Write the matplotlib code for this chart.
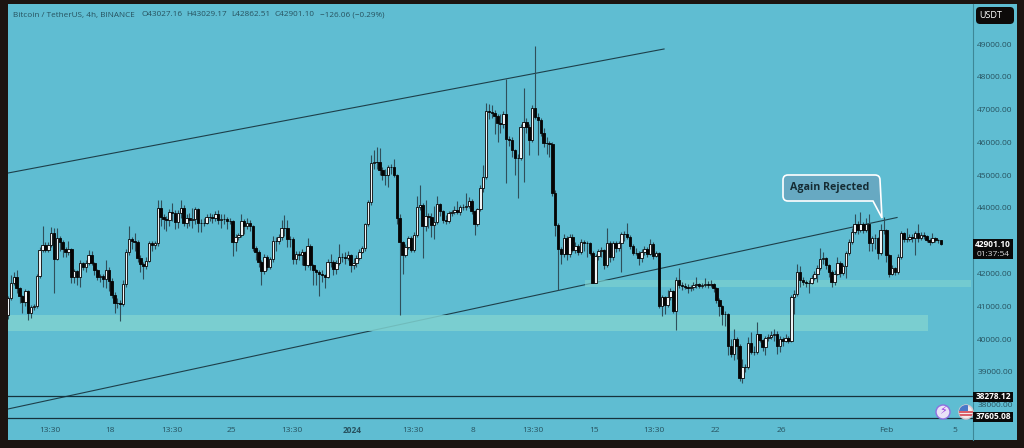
import matplotlib
matplotlib.use("Agg")
import matplotlib.pyplot as plt
from matplotlib.patches import Rectangle, FancyBboxPatch, PathPatch, Circle
from matplotlib.path import Path

plt.rcParams['font.family'] = ['Open Sans', 'DejaVu Sans']

first_open = 40733
closes = [
    41240,41700,41880,41550,41310,41140,41470,40800,40970,41010,
    41920,42710,42870,42720,42870,43240,42430,43070,42970,42740,
    42665,42740,41880,42070,41880,42310,42190,42310,42565,42330,
    42100,41880,41920,41820,42100,41780,41340,41090,41090,41080,
    41680,42650,43040,43000,42970,42460,42290,42230,42390,42920,
    42870,42940,43990,43710,43650,43630,43885,43835,43580,43835,
    43990,43550,43680,43640,43650,43970,43530,43550,43550,43710,
    43710,43680,43815,43630,43650,43650,43600,43600,42970,43120,
    43170,43600,43450,43530,43440,42770,42665,42360,42085,42490,
    42205,42430,42990,42990,43120,43400,43400,43040,43040,42430,
    42590,42560,42650,42250,42840,42250,42105,42055,42000,41950,
    41880,42360,42360,42125,42310,42510,42510,42460,42560,42260,
    42310,42460,42665,42770,43500,44170,45380,45410,45410,45155,
    45005,45000,45238,45240,45000,43680,42970,42560,42815,43070,
    42715,43170,44040,44090,43450,43750,43730,43480,43580,44120,
    43915,43630,43610,43855,43880,43930,43880,44020,44040,44060,
    44220,43915,43500,43960,44600,44930,46960,46925,46900,46800,
    46600,46560,46865,46090,46080,45766,45510,45510,46460,46630,
    46480,46070,47040,46760,46680,46295,45990,45970,45950,44445,
    43480,42735,42590,43070,42590,43120,42717,42840,42666,42970,
    42920,42920,42635,41720,42530,42700,42720,42260,42940,42490,
    42920,42770,42920,43205,43200,43120,42840,42635,42640,42460,
    42665,42740,42585,42900,42535,42615,41010,41290,41040,41290,
    41465,40866,41800,41650,41620,41600,41550,41600,41650,41680,
    41630,41650,41680,41650,41680,41550,41190,41010,40760,40760,
    39790,39530,39990,39790,38800,39150,39150,39870,39600,39600,
    40170,39970,39770,40040,40070,40120,40170,39787,40000,39950,
    40020,39950,41290,41390,42055,41800,41750,41700,41720,41850,
    42000,42160,42430,42460,42260,42060,41750,42000,42310,42025,
    42230,42615,42970,43275,43510,43327,43510,43327,43510,42920,
    43070,43070,42615,43327,43320,42564,41984,42157,42050,42492,
    43225,43040,43040,43120,43070,43225,43070,43170,43140,43020,
    42970,43070,43020,43027,42901.10,
]
highs = [
    41300,41950,42060,42100,41600,41350,41520,41500,41050,41080,
    41980,42800,43450,42950,42950,43430,43400,43380,43150,43020,
    42800,43000,42780,42150,42100,42400,42350,42400,42720,42700,
    42350,42150,42000,41980,42400,42200,41850,41450,41250,41200,
    41800,42750,43450,43120,43230,43030,42550,42350,42500,43000,
    43000,43000,44250,44240,43800,43750,43980,44150,43950,43950,
    44250,44100,43800,43850,43990,44040,44000,43650,43700,43800,
    43840,43800,43920,43950,43800,43800,43720,43680,43620,43200,
    43250,43800,43650,43700,43640,43480,42850,42720,42400,42580,
    42550,42500,43150,43120,43200,43620,43770,43620,43150,43100,
    42700,42680,42750,42700,43070,42900,42300,42150,42100,42100,
    42000,42450,42580,42400,42400,42900,42620,42650,42700,42600,
    42480,42550,42750,42850,43550,44250,45610,45770,45850,45820,
    45250,45200,45320,45350,45490,45050,43800,43000,42900,43150,
    43150,43280,44350,44700,44150,44250,43850,43850,44050,44350,
    44150,43950,43780,43900,43950,44050,44200,44100,44120,44450,
    44330,44280,43950,44000,44700,45300,47190,47170,47150,47000,
    46850,46850,46950,47930,46200,46150,45800,45650,46550,47660,
    46750,46550,47150,48940,46900,46750,46450,46150,46050,46000,
    44550,43550,42800,43200,43150,43200,43200,42950,42900,43050,
    43030,43000,42960,42680,42600,42760,42800,42750,43380,42980,
    43000,42980,43000,43280,43300,43550,43180,42900,42780,42680,
    42750,42850,42800,43050,42950,42700,42650,41350,41320,41500,
    41550,41500,41880,42180,41750,41700,41680,41650,41750,41880,
    41720,41720,41850,41780,41800,41720,41600,41250,41050,40850,
    40800,40000,40300,40050,39850,39400,39250,40050,40230,39800,
    40530,40150,40000,40100,40150,40250,40300,40250,40080,40050,
    40150,40080,41350,41500,42300,42220,41880,41800,41800,41950,
    42080,42250,42780,42650,42500,42300,42100,42100,42500,42380,
    42300,42700,43050,43400,43800,43600,43880,43580,43700,43800,
    43150,43200,43120,43500,43720,43360,42600,42250,42200,42600,
    43300,43280,43400,43200,43200,43300,43500,43280,43280,43180,
    43080,43230,43120,43060,43029.17,
]
lows = [
    40600,41200,41650,41400,41100,40800,41000,40580,40630,40900,
    40950,41850,42650,42650,42650,42800,41400,42400,42700,42500,
    42500,42550,41700,41700,41650,41600,42100,42050,42250,42250,
    41950,41800,41750,41600,41550,41480,41250,40800,40950,40560,
    41000,41600,42550,42750,42700,42350,42050,41820,42150,42350,
    42700,42750,42850,43450,43350,43300,43450,43600,43350,43400,
    43700,43450,43400,43450,43400,43500,43280,43280,43450,43500,
    43600,43550,43600,43500,43380,43500,43350,43500,42520,42700,
    43020,43100,43200,43350,43300,42680,42400,42200,41650,42000,
    42100,42150,42350,42700,42900,43020,43150,42800,42800,42300,
    42300,42400,42250,42100,42200,42100,41650,41650,41300,41750,
    41550,41850,42200,41950,42000,42250,42350,42300,42400,42050,
    42150,42200,42400,42620,42700,43450,44100,45200,45200,45000,
    44850,44700,44650,45050,44950,43500,40735,42000,42500,42750,
    42650,42650,43100,43950,42460,43300,43400,43100,43050,43500,
    43750,43550,43500,43550,43750,43800,43800,43780,43950,43950,
    44000,43800,43180,43450,43900,44500,44880,46700,46750,46250,
    46020,46300,46450,44760,45900,45550,45000,44290,45450,44790,
    46300,45600,46000,46700,45600,46200,45850,45650,45550,44350,
    43150,41500,42300,42500,42400,42500,42650,42620,42550,42600,
    42700,42500,42550,41700,41700,42400,42500,42150,42200,42350,
    42400,42650,42680,42050,43000,43050,42750,42550,42550,42250,
    42350,42550,42500,42550,42450,42500,40950,40700,40750,40980,
    41200,40800,40270,41550,41500,41520,41400,41480,41500,41550,
    41550,41550,41600,41550,41600,41450,41100,40700,40420,40400,
    39500,39450,39350,39400,38720,38650,39000,39100,39550,39500,
    39550,39900,39650,39510,39950,40000,39950,39550,39600,39800,
    39900,39880,39920,40750,41300,41600,41650,41600,41400,41680,
    41800,41750,42100,42300,42150,41900,41600,41650,41950,41900,
    41950,41850,42550,42900,43200,43200,43280,43250,43280,42700,
    42700,42750,42450,42550,43200,42350,41900,41950,41950,41980,
    42450,42950,42950,43000,42950,42550,42950,43020,43050,42950,
    42880,42920,42950,42930,42862.51,
]
opens = [first_open] + closes[:-1]  # each 4h candle opens on the previous close

price_ticks = [49000, 48000, 47000, 46000, 45000, 44000, 42000, 41000, 40000, 39000, 38000]
time_ticks = [14.6, 35.4, 57, 77.5, 98.6, 119.4, 140.6, 161.5, 182.3, 203.5, 224.3, 245.5, 268.7, 305, 328.8]
time_labels = ['13:30', '18', '13:30', '25', '13:30', '2024', '13:30', '8', '13:30', '15', '13:30', '22', '26', 'Feb', '5']

upper_line_x = [0, 227.8]
upper_line_y = [45065, 48848]
lower_line_x = [0, 308.7]
lower_line_y = [37868, 43708]
support_levels = [38278.12, 37605.08]
low_band = (40246, 40735, 0, 319.4)
high_band = (41590, 41800, 200.3, 334.4)

W, H = 1024, 448
BG = '#5fbdd2'
FRAME = '#1c1411'
INK = '#27525f'


def fx(x):
    return x / W


def fy(y):
    return 1 - y / H


fig = plt.figure(figsize=(10.24, 4.48), dpi=100, facecolor=FRAME)
fig.add_artist(Rectangle((fx(8), fy(440)), fx(1017 - 8), 436 / H, transform=fig.transFigure,
                         facecolor=BG, edgecolor='none', zorder=-5))
ax = fig.add_axes([fx(8), fy(440), fx(973 - 8), 436 / H], facecolor='none')
ax.set_xlim(0, (973 - 8) / 2.88)
ax.set_ylim(36922, 50220)
for s in ax.spines.values():
    s.set_visible(False)
ax.spines['right'].set_visible(True)
ax.spines['right'].set_color('#3d8797')
ax.spines['right'].set_linewidth(0.8)

# trend lines, the pale bands sit on top of them
ax.plot(upper_line_x, upper_line_y, color='#1d3f4a', lw=0.8, zorder=1)
ax.plot(lower_line_x, lower_line_y, color='#1d3f4a', lw=0.8, zorder=1)
for lev in support_levels:
    ax.axhline(lev, color='#16323c', lw=0.9, zorder=1)
ax.add_patch(Rectangle((low_band[2], low_band[0]), low_band[3] - low_band[2], low_band[1] - low_band[0],
                       facecolor='#7fd2d0', edgecolor='none', alpha=0.85, zorder=2))
ax.add_patch(Rectangle((high_band[2], high_band[0]), high_band[3] - high_band[2], high_band[1] - high_band[0],
                       facecolor='#7fd2d0', edgecolor='none', alpha=0.65, zorder=2))

idx = list(range(len(closes)))
ax.vlines(idx, lows, highs, color='#2f4f5a', lw=0.8, zorder=3)
for i in idx:
    up = closes[i] >= opens[i]
    ax.bar(i, abs(closes[i] - opens[i]), width=0.85, bottom=min(opens[i], closes[i]),
           color='#eef3f5' if up else '#050505', edgecolor='#050505', lw=0.6, zorder=4)

ax.yaxis.tick_right()
ax.set_yticks(price_ticks)
ax.set_yticklabels(['%.2f' % p for p in price_ticks], fontsize=6, color=INK)
ax.tick_params(axis='y', length=0, pad=3)
ax.set_xticks(time_ticks)
ax.set_xticklabels(time_labels, fontsize=6, color=INK, va='center')
ax.tick_params(axis='x', length=0, pad=-7.2)
ax.get_xticklabels()[5].set_fontweight('bold')

# legend line, the OHLC values are spaced wider than the name
header_x = [13, 141, 186, 231, 274.5, 320]
header_txt = ['Bitcoin / TetherUS, 4h, BINANCE', 'O43027.16', 'H43029.17', 'L42862.51', 'C42901.10', '\u2212126.06 (\u22120.29%)']
for hx, txt in zip(header_x, header_txt):
    fig.text(fx(hx), fy(15), txt, fontsize=5.9, color=INK, va='center')

# price tags on the axis
for top, bot, txt in [(392, 401.5, '38278.12'), (412, 421.5, '37605.08')]:
    fig.add_artist(Rectangle((fx(973), fy(bot)), fx(40), (bot - top) / H, transform=fig.transFigure,
                             facecolor='#0a0a0a', edgecolor='none'))
    fig.text(fx(993), fy((top + bot) / 2), txt, fontsize=6, color='white', ha='center', va='center', fontweight='bold')
fig.add_artist(Rectangle((fx(973), fy(259)), fx(40), 20 / H, transform=fig.transFigure,
                         facecolor='#0a0a0a', edgecolor='none'))
fig.text(fx(993), fy(244.5), '42901.10', fontsize=6, color='white', ha='center', va='center', fontweight='bold')
fig.text(fx(993), fy(254), '01:37:54', fontsize=6, color='#d8d8d8', ha='center', va='center')

# USDT button
fig.add_artist(FancyBboxPatch((fx(976), fy(24)), fx(38), 17 / H, transform=fig.transFigure,
                              boxstyle='round,pad=0,rounding_size=0.004', mutation_aspect=2.2,
                              facecolor='#0d0b0a', edgecolor='none'))
fig.text(fx(991), fy(15.5), 'USDT', fontsize=6.5, color='white', ha='center', va='center')

# callout
x0, x1, y0, y1, r = fx(783), fx(880), fy(175), fy(201), 5
rx, ry = r / W, r / H
verts = [(x0 + rx, y0), (x1 - rx, y0), (x1, y0), (x1, y0 - ry), (fx(882), fy(218)), (fx(873), y1),
         (x0 + rx, y1), (x0, y1), (x0, y1 + ry), (x0, y0 - ry), (x0, y0), (x0 + rx, y0), (x0 + rx, y0)]
codes = [Path.MOVETO, Path.LINETO, Path.CURVE3, Path.CURVE3, Path.LINETO, Path.LINETO,
         Path.LINETO, Path.CURVE3, Path.CURVE3, Path.LINETO, Path.CURVE3, Path.CURVE3, Path.CLOSEPOLY]
fig.add_artist(PathPatch(Path(verts, codes), transform=fig.transFigure, facecolor='#67a9c2',
                         edgecolor='white', lw=1.2, zorder=6))
fig.text(fx(829.5), fy(187), 'Again Rejected', fontsize=7.7, color='#152b33', ha='center', va='center',
         fontweight='bold', zorder=7)

# small event icons near the bottom
icon = fig.add_axes([0, 0, 1, 1], facecolor='none')
icon.set_xlim(0, W)
icon.set_ylim(H, 0)
icon.axis('off')
icon.add_patch(Circle((943, 412), 7, facecolor='#e9e3f7', edgecolor='#8f6fe0', lw=1))
icon.text(943, 411.5, '\u26a1', fontsize=8, color='#9a3fe0', ha='center', va='center', family='DejaVu Sans')
flag = Circle((966, 412), 7, facecolor='#f3eaea', edgecolor='#d9c9d0', lw=1)
icon.add_patch(flag)
for yy in (412, 415.5):
    stripe = Rectangle((959, yy - 1), 14, 2, facecolor='#d9606a', edgecolor='none')
    icon.add_patch(stripe)
    stripe.set_clip_path(flag)
canton = Rectangle((959, 405), 9, 6, facecolor='#4a78c8', edgecolor='none')
icon.add_patch(canton)
canton.set_clip_path(flag)

fig.savefig('out.png', dpi=100, facecolor=FRAME)
